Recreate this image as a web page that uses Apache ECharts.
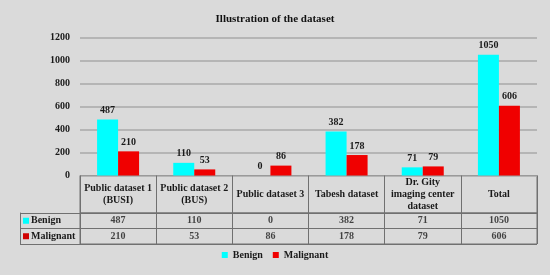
<!DOCTYPE html>
<html><head><meta charset="utf-8">
<script src="https://cdn.jsdelivr.net/npm/echarts@6/dist/echarts.min.js"></script>
<style>html,body{margin:0;padding:0;background:#DADADA}#c{width:550px;height:275px}</style>
</head><body><div id="c"></div>
<script>
const title = 'Illustration of the dataset';
const categories = ['Public dataset 1\n(BUSI)', 'Public dataset 2\n(BUS)', 'Public dataset 3', 'Tabesh dataset', 'Dr. Gity\nimaging center\ndataset', 'Total'];
const benign = [487, 110, 0, 382, 71, 1050];
const malignant = [210, 53, 86, 178, 79, 606];
const seriesNames = ['Benign', 'Malignant'];
const yTicks = {min: 0, max: 1200, interval: 200};

const F = '"Liberation Serif", "Times New Roman", serif';
const C1 = '#00FFFF', C2 = '#F00000';
const border = '#707070';
const txt = {fontFamily: F, fontWeight: 'bold', fontSize: 10, color: '#1a1a1a'};

const cellData = (arr, row) => arr.map((v, i) => [i, row, v]);
const vLines = {show: true, interval: 0, lineStyle: {color: border, width: 1}};

const chart = echarts.init(document.getElementById('c'));
chart.setOption({
  backgroundColor: '#DADADA',
  animation: false,
  title: {text: title, left: 'center', top: 9, textStyle: {fontFamily: F, fontWeight: 'bold', fontSize: 11, color: '#111'}},
  legend: {
    data: seriesNames, bottom: 10, left: 'center', icon: 'rect', itemWidth: 6, itemHeight: 6, itemGap: 10,
    textStyle: {fontFamily: F, fontWeight: 'bold', fontSize: 10, color: '#1a1a1a'}
  },
  grid: [
    {left: 80, right: 13, top: 37.5, height: 138},
    {left: 80, right: 13, top: 175.5, height: 37.5, show: true, borderColor: border, borderWidth: 1},
    {left: 80, right: 13, top: 213, height: 31, show: true, borderColor: border, borderWidth: 1}
  ],
  xAxis: [
    {type: 'category', gridIndex: 0, data: categories, axisLine: {show: false}, axisTick: {show: false},
     axisLabel: Object.assign({margin: 19, verticalAlign: 'middle', lineHeight: 12, interval: 0}, txt)},
    {type: 'category', gridIndex: 1, data: categories, axisLine: {show: false}, axisTick: {show: false}, axisLabel: {show: false},
     splitLine: vLines},
    {type: 'category', gridIndex: 2, data: categories, axisLine: {show: false}, axisTick: {show: false}, axisLabel: {show: false},
     splitLine: vLines}
  ],
  yAxis: [
    {type: 'value', gridIndex: 0, min: yTicks.min, max: yTicks.max, interval: yTicks.interval,
     axisLine: {show: false}, axisTick: {show: false},
     axisLabel: Object.assign({margin: 10, formatter: v => String(v)}, txt),
     splitLine: {lineStyle: {color: '#A8A8A8', width: 1.5}}},
    {type: 'value', gridIndex: 1, show: false},
    {type: 'category', gridIndex: 2, data: seriesNames, inverse: true,
     axisLine: {show: true, lineStyle: {color: border}},
     axisTick: {show: true, interval: 0, length: 60, lineStyle: {color: border}},
     splitLine: vLines,
     axisLabel: {margin: 57, align: 'left', interval: 0,
       formatter: (v, i) => '{' + (i === 0 ? 'a' : 'b') + '|}{t|' + v + '}',
       rich: {
         a: {width: 6, height: 6, backgroundColor: C1},
         b: {width: 6, height: 6, backgroundColor: '#D00000'},
         t: Object.assign({padding: [0, 0, 0, 2]}, txt)
       }}},
    {type: 'category', gridIndex: 2, data: seriesNames, inverse: true, position: 'left', offset: 60,
     axisLine: {show: true, lineStyle: {color: border}}, axisTick: {show: false}, axisLabel: {show: false}}
  ],
  series: [
    {name: seriesNames[0], type: 'bar', xAxisIndex: 0, yAxisIndex: 0, data: benign, barWidth: 21, barGap: '0%',
     itemStyle: {color: C1}, label: Object.assign({show: true, position: 'top', distance: 4}, txt)},
    {name: seriesNames[1], type: 'bar', xAxisIndex: 0, yAxisIndex: 0, data: malignant, barWidth: 21,
     itemStyle: {color: C2}, label: Object.assign({show: true, position: 'top', distance: 4}, txt)},
    {name: 'tableBenign', type: 'scatter', xAxisIndex: 2, yAxisIndex: 2, data: cellData(benign, 0),
     symbolSize: 1, itemStyle: {color: 'rgba(0,0,0,0)'}, silent: true,
     label: Object.assign({show: true, position: 'inside', formatter: p => String(p.value[2])}, txt)},
    {name: 'tableMalignant', type: 'scatter', xAxisIndex: 2, yAxisIndex: 2, data: cellData(malignant, 1),
     symbolSize: 1, itemStyle: {color: 'rgba(0,0,0,0)'}, silent: true,
     label: Object.assign({show: true, position: 'inside', formatter: p => String(p.value[2])}, txt)}
  ]
});
</script>
</body></html>
